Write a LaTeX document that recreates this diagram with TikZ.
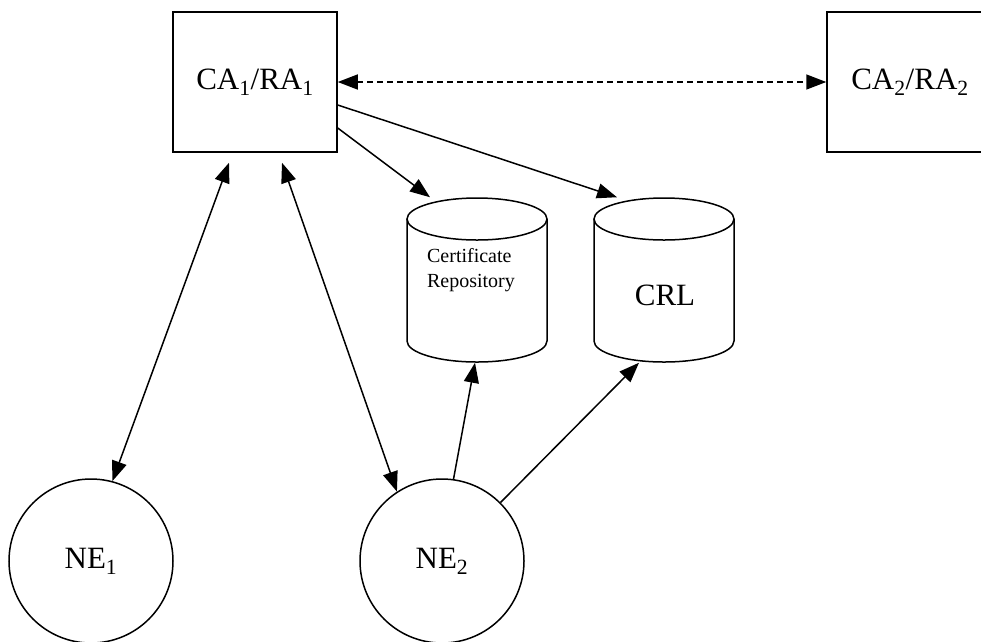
\documentclass[tikz,border=0pt]{standalone}
\usepackage{fontspec}
\setmainfont{Liberation Serif}
\usetikzlibrary{arrows.meta}
\begin{document}
\begin{tikzpicture}[x=1pt,y=-1pt,
  line width=1.5pt,
  tip/.style={-{Triangle[length=20pt,width=15pt]}},
  tips/.style={{Triangle[length=20pt,width=15pt]}-{Triangle[length=20pt,width=15pt]}},
  boxnode/.style={draw,rectangle,minimum width=164pt,minimum height=140pt,inner sep=0pt,font=\fontsize{31}{36}\selectfont},
  cyl/.style={rectangle,minimum width=140pt,minimum height=164pt,inner sep=0pt},
  ne/.style={draw,circle,minimum size=164pt,inner sep=0pt,font=\fontsize{31}{36}\selectfont},
  big/.style={font=\fontsize{31}{36}\selectfont},
  small/.style={font=\fontsize{20}{25}\selectfont,align=left}]
\clip (0,0) rectangle (981,641);
% boxes
\node[boxnode] (ca1) at (255,82) {CA\textsubscript{1}/RA\textsubscript{1}};
\node[boxnode,minimum width=166pt,text width=166pt,align=center] (ca2) at (910,82) {CA\textsubscript{2}/RA\textsubscript{2}};
% cylinders
\node[cyl] (cert) at (477,280) {};
\node[cyl] (crl) at (664,280) {};
\draw (407,219) -- (407,341) arc[start angle=180,end angle=360,x radius=70,y radius=-21] -- (547,219);
\draw (477,219) ellipse[x radius=70,y radius=21];
\draw (594,219) -- (594,341) arc[start angle=180,end angle=360,x radius=70,y radius=-21] -- (734,219);
\draw (664,219) ellipse[x radius=70,y radius=21];
\node[small] (certlabel) at (471,270) {Certificate\\Repository};
\node[big] (crllabel) at (665,295) {CRL};
% circles
\node[ne] (ne1) at (91,561) {NE\textsubscript{1}};
\node[ne] (ne2) at (442,561) {NE\textsubscript{2}};
% connectors
\draw[tips,dash pattern=on 6pt off 4pt] (ca1.east) -- (ca2.west);
\draw[tip] ([yshift=-46pt]ca1.east) -- ([xshift=-47pt,yshift=0pt]cert.north);
\draw[tip] ([yshift=-23pt]ca1.east) -- ([xshift=-47pt]crl.north);
\draw[tips] ([xshift=-26pt,yshift=-10pt]ca1.south) -- (ne1.75);
\draw[tips] ([xshift=27pt,yshift=-10pt]ca1.south) -- (ne2.123);
\draw[tip] (ne2.82) -- ([xshift=-2pt]cert.south);
\draw[tip] (ne2.45) -- ([xshift=-25pt]crl.south);
\end{tikzpicture}
\end{document}
